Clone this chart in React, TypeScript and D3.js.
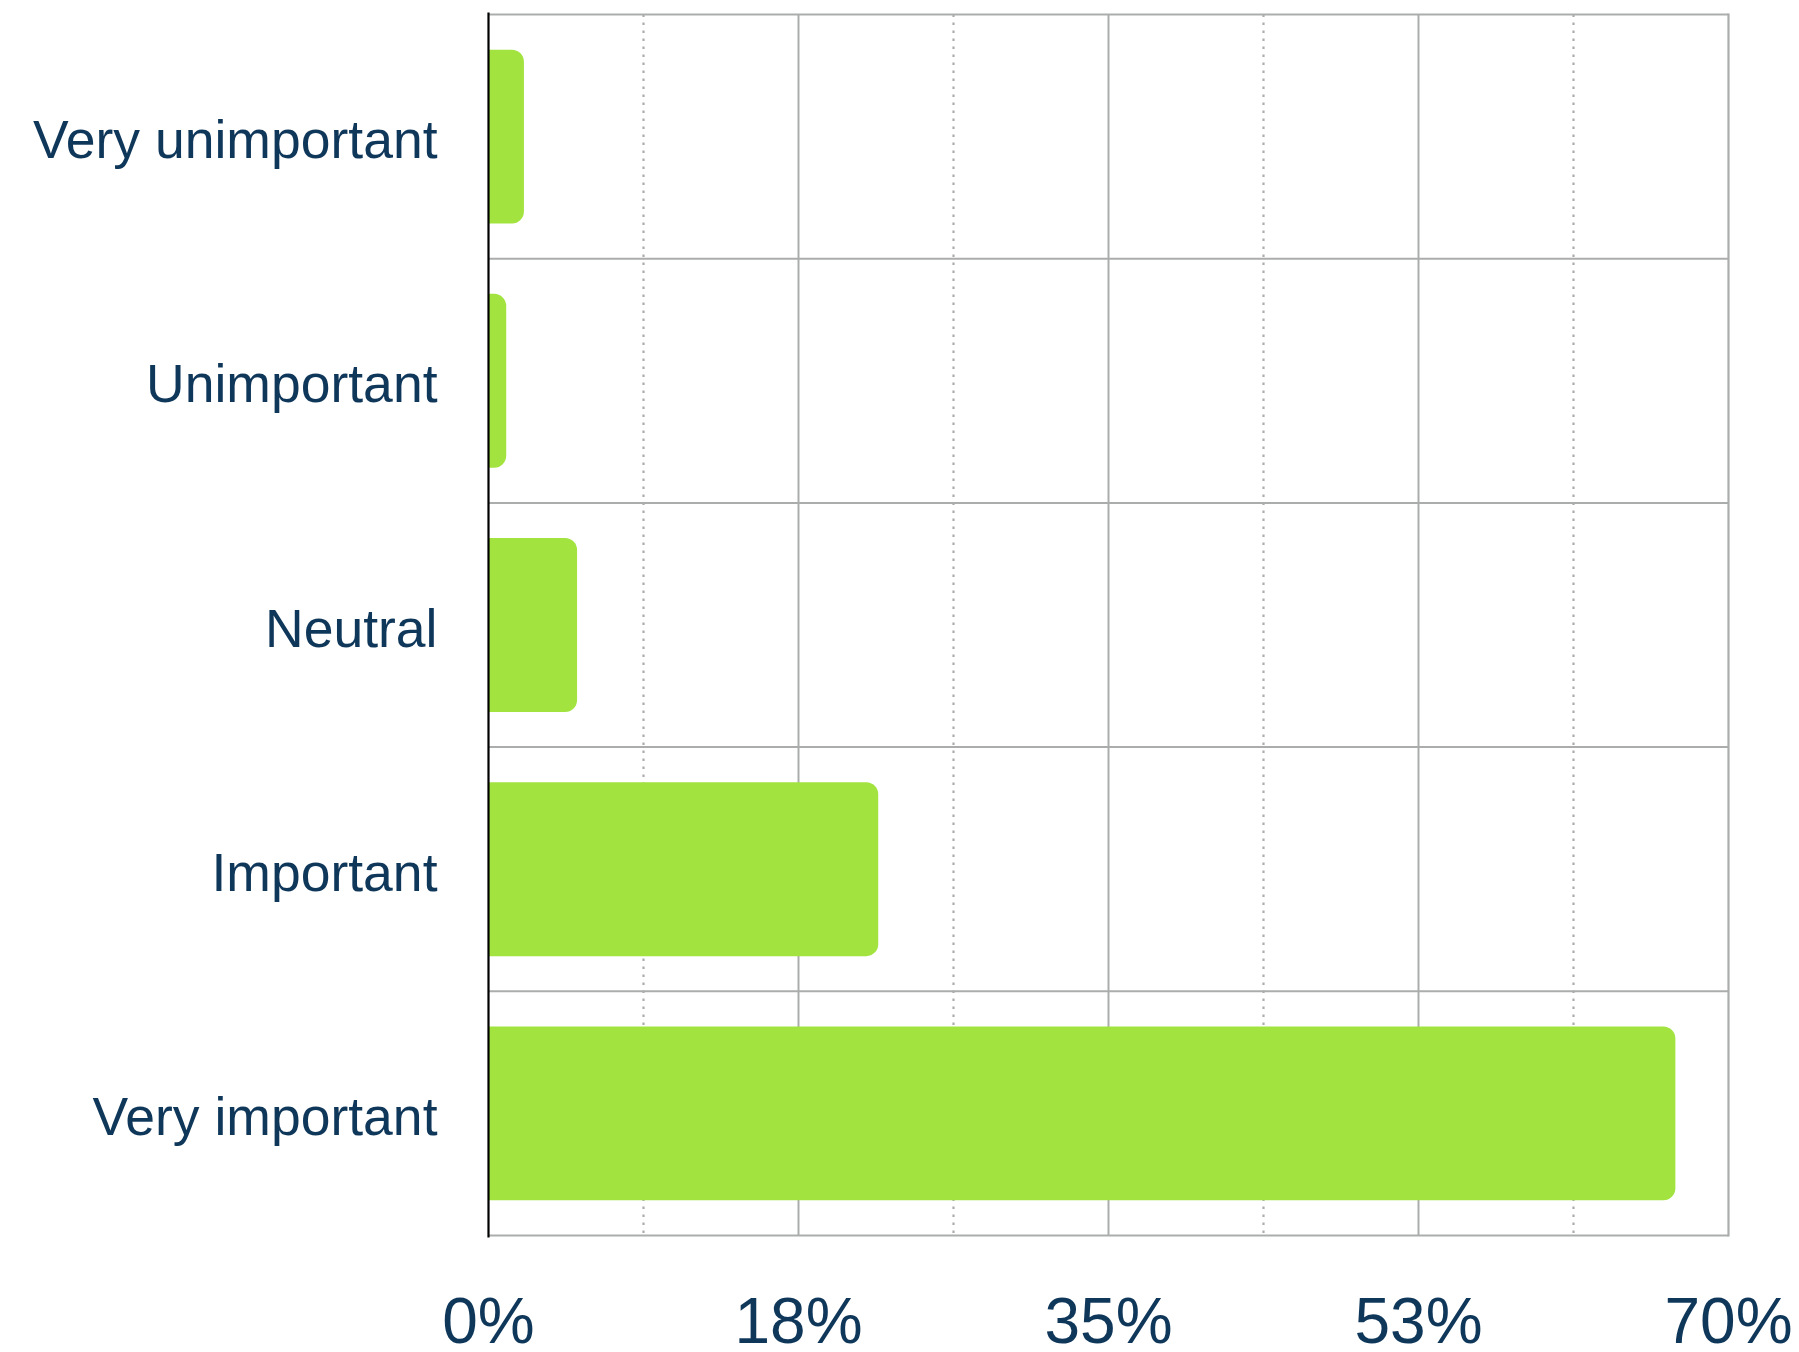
import React from "react";
import * as d3 from "d3";

const categories = ["Very unimportant", "Unimportant", "Neutral", "Important", "Very important"];
const values = [2, 1, 5, 22, 67];
const majorTicks = [0, 17.5, 35, 52.5, 70];
const minorTicks = [8.75, 26.25, 43.75, 61.25];
const tickLabels = ["0%", "18%", "35%", "53%", "70%"];

const W = 1799;
const H = 1352;
const left = 488.5;
const right = 1728.5;
const top = 14.5;
const bottom = 1235.5;
const TEXT = "#0f375a";
const BAR = "#a2e33f";
const GRID = "#abadad";
const FONT = "'Liberation Sans', Arial, sans-serif";

function barPath(x0: number, x1: number, y0: number, h: number, r: number) {
  const rr = Math.min(r, (x1 - x0), h / 2);
  const p = d3.path();
  p.moveTo(x0, y0);
  p.lineTo(x1 - rr, y0);
  p.arcTo(x1, y0, x1, y0 + rr, rr);
  p.lineTo(x1, y0 + h - rr);
  p.arcTo(x1, y0 + h, x1 - rr, y0 + h, rr);
  p.lineTo(x0, y0 + h);
  p.closePath();
  return p.toString();
}

export default function App() {
  const x = d3.scaleLinear().domain([0, 70]).range([left, right]);
  const y = d3
    .scaleBand<string>()
    .domain(categories)
    .range([top, bottom])
    .paddingInner(0.288)
    .paddingOuter(0.144);
  const step = y.step();
  const rowLines = d3.range(1, categories.length).map((i) => top + i * step);

  return (
    <svg
      width={W}
      height={H}
      style={{ position: "absolute", left: 0, top: 0, background: "#fff" }}
    >
      {/* minor dotted grid */}
      {minorTicks.map((t) => (
        <line
          key={"m" + t}
          x1={x(t)}
          x2={x(t)}
          y1={top}
          y2={bottom}
          stroke={GRID}
          strokeWidth={2.2}
          strokeDasharray="2.5 5.5"
        />
      ))}
      {/* major grid */}
      {majorTicks.slice(1, -1).map((t) => (
        <line key={"M" + t} x1={x(t)} x2={x(t)} y1={top} y2={bottom} stroke={GRID} strokeWidth={2} />
      ))}
      {/* row separators */}
      {rowLines.map((yy, i) => (
        <line key={"r" + i} x1={left} x2={right} y1={yy} y2={yy} stroke={GRID} strokeWidth={2} />
      ))}
      {/* border */}
      <line x1={left} x2={right} y1={top} y2={top} stroke={GRID} strokeWidth={2.2} />
      <line x1={left} x2={right} y1={bottom} y2={bottom} stroke={GRID} strokeWidth={2.2} />
      <line x1={right} x2={right} y1={top - 1} y2={bottom + 1} stroke={GRID} strokeWidth={2.2} />
      {/* bars */}
      {categories.map((c, i) => (
        <path
          key={c}
          d={barPath(x(0), x(values[i]), y(c) as number, y.bandwidth(), 12)}
          fill={BAR}
        />
      ))}
      {/* left axis */}
      <line x1={left} x2={left} y1={top - 2} y2={bottom + 2} stroke="#000" strokeWidth={2.2} />
      {/* category labels */}
      {categories.map((c) => (
        <text
          key={"l" + c}
          x={437.5}
          y={(y(c) as number) + y.bandwidth() / 2 + 21.5}
          textAnchor="end"
          fontFamily={FONT}
          fontSize={53.5}
          fill={TEXT}
        >
          {c}
        </text>
      ))}
      {/* tick labels */}
      {majorTicks.map((t, i) => (
        <text
          key={"t" + t}
          x={x(t)}
          y={1343}
          textAnchor="middle"
          fontFamily={FONT}
          fontSize={64}
          fill={TEXT}
        >
          {tickLabels[i]}
        </text>
      ))}
    </svg>
  );
}
